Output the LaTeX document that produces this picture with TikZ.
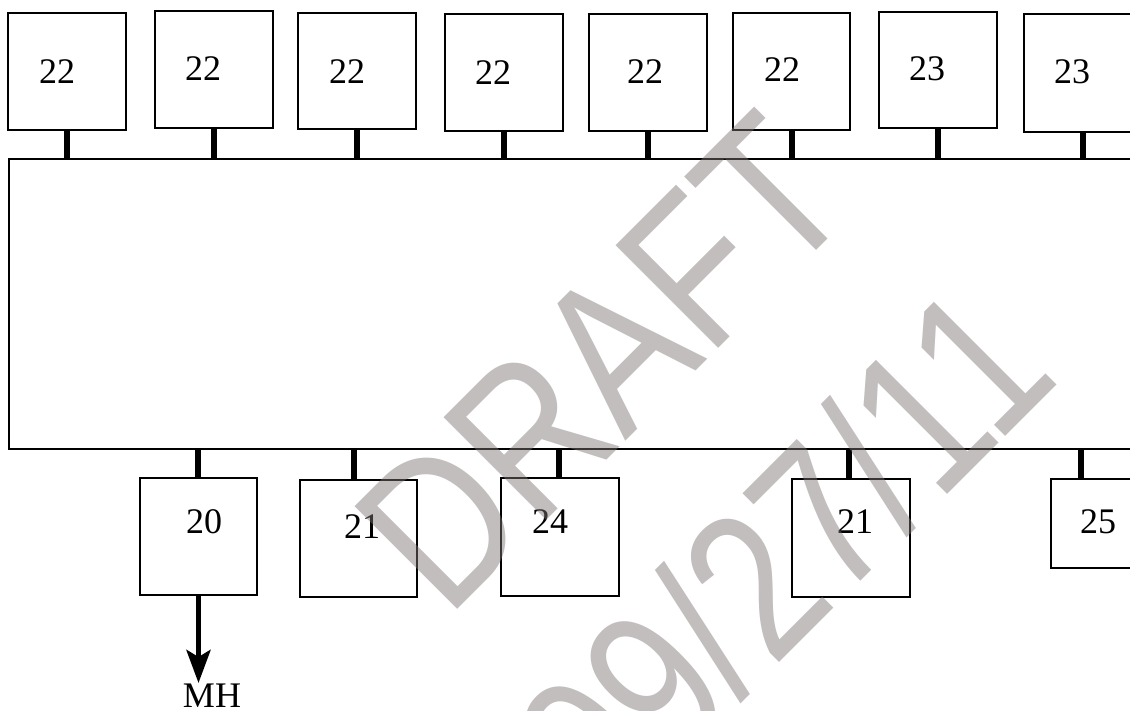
\documentclass[tikz,border=0pt]{standalone}
\usepackage{graphicx}
\usepackage{fontspec}
\setmainfont{Liberation Serif}
\newfontfamily\wmfont{Liberation Sans}
\usetikzlibrary{arrows.meta}
\definecolor{wmgray}{RGB}{126,116,116}
\begin{document}
\begin{tikzpicture}[x=1pt,y=-1pt,
  blk/.style={draw=black,line width=2.7pt,inner sep=0pt,outer sep=0pt,minimum width=118pt,minimum height=117pt},
  lbl/.style={font=\fontsize{36}{36}\selectfont,inner sep=0pt},
  conn/.style={line width=6pt},
  flow/.style={line width=5.5pt,-{Stealth[length=33pt,width=24pt,inset=7pt]}},
  wm/.style={text=wmgray,text opacity=0.47,inner sep=0pt,rotate=45,font=\wmfont\fontsize{211}{211}\selectfont}]
\useasboundingbox (0,0) rectangle (1130,710);
\clip (0,0) rectangle (1130,710);
% bus
\node[blk,minimum width=1132pt,minimum height=290pt] (bus) at (575,304) {};
% top boxes
\node[blk] (t1) at (67,71.5) {};
\node[blk] (t2) at (214,69.5) {};
\node[blk,minimum height=116pt] (t3) at (357,71) {};
\node[blk] (t4) at (504,72.5) {};
\node[blk] (t5) at (648,72.5) {};
\node[blk,minimum width=117pt] (t6) at (791.5,71.5) {};
\node[blk,minimum height=116pt] (t7) at (938,70) {};
\node[blk,minimum height=118pt] (t8) at (1083,73) {};
\foreach \n in {t1,t2,t3,t4,t5,t6,t7,t8}
  \draw[conn] (\n.south) -- (\n.south |- bus.north);
\node[lbl] (l1) at (57,71.5) {22};
\node[lbl] (l2) at (203,69) {22};
\node[lbl] (l3) at (347,72) {22};
\node[lbl] (l4) at (493,73) {22};
\node[lbl] (l5) at (645,72) {22};
\node[lbl] (l6) at (782,70) {22};
\node[lbl] (l7) at (927,69) {23};
\node[lbl] (l8) at (1072,72) {23};
% bottom boxes
\node[blk,minimum width=117pt] (b20) at (198.5,536.5) {};
\node[blk,minimum width=117pt] (b21) at (358.5,538.5) {};
\node[blk,minimum height=118pt] (b24) at (560,537) {};
\node[blk,minimum height=118pt] (b21b) at (851,538) {};
\node[blk,minimum height=89pt] (b25) at (1110,523.5) {};
\coordinate (c20) at (198,449);
\coordinate (c21) at (354,449);
\coordinate (c24) at (559,449);
\coordinate (c21b) at (849,449);
\coordinate (c25) at (1081,449);
\draw[conn] (c20) -- (c20 |- b20.north);
\draw[conn] (c21) -- (c21 |- b21.north);
\draw[conn] (c24) -- (c24 |- b24.north);
\draw[conn] (c21b) -- (c21b |- b21b.north);
\draw[conn] (c25) -- (c25 |- b25.north);
\node[lbl] (l20) at (204,522) {20};
\node[lbl] (l21) at (362,527) {21};
\node[lbl] (l24) at (550,522) {24};
\node[lbl] (l21b) at (855,522) {21};
\node[lbl] (l25) at (1098,522) {25};
% output arrow
\coordinate (mhtip) at (198,683);
\draw[flow] (b20.south) -- (b20.south |- mhtip);
\node[lbl] (mh) at (212,696) {MH};
% watermark
\node[wm,anchor=base west] (wm1) at (447,620) {\scalebox{0.83}[1]{DRAFT}};
\node[wm,anchor=base west] (wm2) at (607,835) {\scalebox{0.80}[1]{09/27/11}};
\end{tikzpicture}
\end{document}
